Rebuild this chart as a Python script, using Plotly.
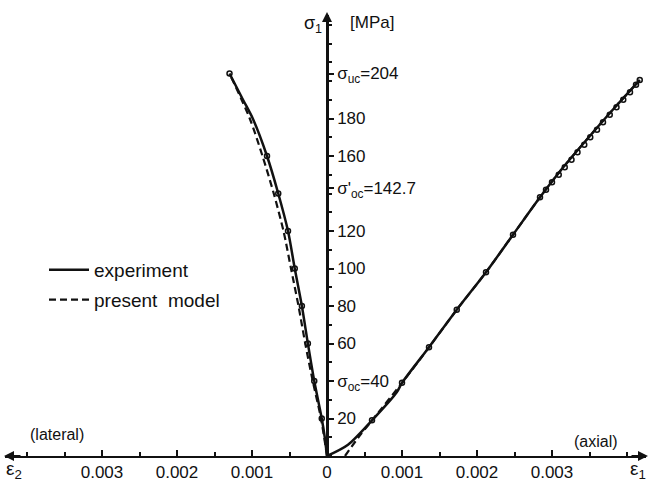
import plotly.graph_objects as go

W, H = 651, 489
X0_PX, Y0_PX = 327, 456          # pixel position of the origin
PX_PER_STRAIN = 75000.0          # px per unit strain
PX_PER_MPA = 1.875

# ---------------- data ----------------
# lateral (epsilon_2, plotted to the left), experiment
lat_exp_stress = [0, 10, 20, 40, 60, 80, 100, 120, 140, 160, 180, 190, 204]
lat_exp_strain = [0, 0.00003, 0.00007, 0.00017, 0.000255, 0.000335, 0.00043,
                  0.00052, 0.00065, 0.0008, 0.00099, 0.00112, 0.0013]
# lateral, present model
lat_mod_stress = [0, 20, 40, 60, 80, 100, 120, 140, 160, 180, 204]
lat_mod_strain = [0, 0.00008, 0.00019, 0.00029, 0.00038, 0.00048, 0.00058,
                  0.00071, 0.00086, 0.00103, 0.0013]
# lateral measured points (open circles)
lat_pts_stress = [20, 40, 60, 80, 100, 120, 140, 160, 204]
lat_pts_strain = [0.00007, 0.00017, 0.000255, 0.000335, 0.00043, 0.00052,
                  0.00065, 0.0008, 0.0013]

# axial (epsilon_1), experiment
ax_exp_stress = [0, 6, 19, 34, 39, 58, 78, 98, 118, 138, 154, 170, 186, 200.5]
ax_exp_strain = [0, 0.00028, 0.0006, 0.00093, 0.001, 0.00136, 0.00173, 0.00212,
                 0.00248, 0.00284, 0.00315, 0.00349, 0.00384, 0.00417]
# axial, present model
ax_mod_stress = [0, 10, 19, 39, 58, 78, 98, 118, 138, 154, 170, 186, 200.5]
ax_mod_strain = [0.00024, 0.00042, 0.0006, 0.001, 0.00136, 0.00173, 0.00212,
                 0.00248, 0.00284, 0.00315, 0.00349, 0.00384, 0.00417]
# axial measured points (open circles)
ax_pts_stress = [19, 39, 58, 78, 98, 118, 138, 142, 146, 150, 154, 158, 162,
                 166, 170, 174, 178, 182, 186, 190, 194, 198, 200.5]
ax_pts_strain = [0.0006, 0.001, 0.00136, 0.00173, 0.00212, 0.00248, 0.00284,
                 0.00292, 0.003, 0.00309, 0.00317, 0.00326, 0.00334, 0.00343,
                 0.00351, 0.0036, 0.00368, 0.00377, 0.00386, 0.00395, 0.00404,
                 0.00412, 0.00417]

x_tick_vals = [-0.003, -0.002, -0.001, 0, 0.001, 0.002, 0.003]
x_tick_text = ["0.003", "0.002", "0.001", "0", "0.001", "0.002", "0.003"]
y_tick_vals = [20, 40, 60, 80, 100, 120, 142.7, 160, 180, 204]
y_tick_text = ["20", "σ<sub>oc</sub>=40", "60", "80", "100", "120",
               "σ'<sub>oc</sub>=142.7", "160", "180", "σ<sub>uc</sub>=204"]

FONT = "Liberation Sans"
BLACK = "#111111"

def neg(v):
    return [-a for a in v]

fig = go.Figure()
fig.add_trace(go.Scatter(x=neg(lat_exp_strain), y=lat_exp_stress, mode="lines",
                         line=dict(color=BLACK, width=2.5, shape="spline", smoothing=0.8),
                         name="experiment", legendgroup="exp"))
fig.add_trace(go.Scatter(x=ax_exp_strain, y=ax_exp_stress, mode="lines",
                         line=dict(color=BLACK, width=2.5, shape="spline", smoothing=0.8),
                         name="experiment", legendgroup="exp", showlegend=False))
fig.add_trace(go.Scatter(x=neg(lat_mod_strain), y=lat_mod_stress, mode="lines",
                         line=dict(color=BLACK, width=2.2, dash="7px,4px",
                                   shape="spline", smoothing=0.8),
                         name="present  model", legendgroup="mod"))
fig.add_trace(go.Scatter(x=ax_mod_strain, y=ax_mod_stress, mode="lines",
                         line=dict(color=BLACK, width=2.2, dash="7px,4px",
                                   shape="spline", smoothing=0.8),
                         name="present  model", legendgroup="mod", showlegend=False))
fig.add_trace(go.Scatter(x=neg(lat_pts_strain), y=lat_pts_stress, mode="markers",
                         marker=dict(symbol="circle-open", size=5, color=BLACK,
                                     line=dict(width=1.5)),
                         showlegend=False, cliponaxis=False))
fig.add_trace(go.Scatter(x=ax_pts_strain, y=ax_pts_stress, mode="markers",
                         marker=dict(symbol="circle-open", size=5, color=BLACK,
                                     line=dict(width=1.5)),
                         showlegend=False, cliponaxis=False))

# axis geometry
x_dom = [5 / W, 646 / W]
x_rng = [(5 - X0_PX) / PX_PER_STRAIN, (646 - X0_PX) / PX_PER_STRAIN]
y_dom = [(H - Y0_PX) / H, (H - 15) / H]
y_rng = [0, (Y0_PX - 15) / PX_PER_MPA]

fig.update_layout(
    width=W, height=H,
    margin=dict(l=0, r=0, t=0, b=0),
    paper_bgcolor="white", plot_bgcolor="white",
    font=dict(family=FONT, size=16, color=BLACK),
    xaxis=dict(domain=x_dom, range=x_rng, anchor="y",
               showline=True, linecolor=BLACK, linewidth=2,
               showgrid=False, zeroline=False,
               tickmode="array", tickvals=x_tick_vals, ticktext=x_tick_text,
               ticks="inside", ticklen=6, tickwidth=1.5, tickcolor=BLACK,
               minor=dict(tickmode="linear", tick0=0, dtick=0.0005,
                          ticks="inside", ticklen=4, tickcolor=BLACK),
               tickfont=dict(size=17)),
    yaxis=dict(domain=y_dom, range=y_rng, anchor="free", position=X0_PX / W,
               side="right",
               showline=True, linecolor=BLACK, linewidth=2.5,
               showgrid=False, zeroline=False,
               tickmode="array", tickvals=y_tick_vals, ticktext=y_tick_text,
               ticks="outside", ticklen=5, tickwidth=1.5, tickcolor=BLACK,
               minor=dict(tickmode="linear", tick0=0, dtick=10,
                          ticks="outside", ticklen=3, tickcolor=BLACK),
               tickfont=dict(size=17)),
    legend=dict(x=44 / W, y=1 - 251 / H, xanchor="left", yanchor="top",
                bgcolor="rgba(0,0,0,0)", font=dict(size=19),
                tracegroupgap=2, itemwidth=40, traceorder="grouped"),
)

def px(xp, yp):
    return xp / W, 1 - yp / H

annos = []
def text(t, xp, yp, size=17, xanchor="center"):
    x, y = px(xp, yp)
    annos.append(dict(text=t, x=x, y=y, xref="paper", yref="paper",
                      showarrow=False, xanchor=xanchor, yanchor="middle",
                      font=dict(size=size, family=FONT, color=BLACK)))

text("ε<sub>2</sub>", 14, 470, 19)
text("ε<sub>1</sub>", 638, 470, 19)
text("(lateral)", 57, 434, 16)
text("(axial)", 596, 441, 16)
text("σ<sub>1</sub>", 313, 24, 18)
text("[MPa]", 372, 22, 17)

def arrow(xp, yp, ax, ay):
    x, y = px(xp, yp)
    annos.append(dict(x=x, y=y, xref="paper", yref="paper", ax=ax, ay=ay,
                      axref="pixel", ayref="pixel", text="", showarrow=True,
                      arrowhead=2, arrowsize=1, arrowwidth=2, arrowcolor=BLACK))

arrow(4, Y0_PX, 18, 0)
arrow(648, Y0_PX, -18, 0)
arrow(X0_PX, 12, 0, 18)

fig.update_layout(annotations=annos)
fig.write_html("out.html",
               config={"displayModeBar": False},
               post_script="document.body.style.margin='0';"
                           "document.body.style.overflow='hidden';")
